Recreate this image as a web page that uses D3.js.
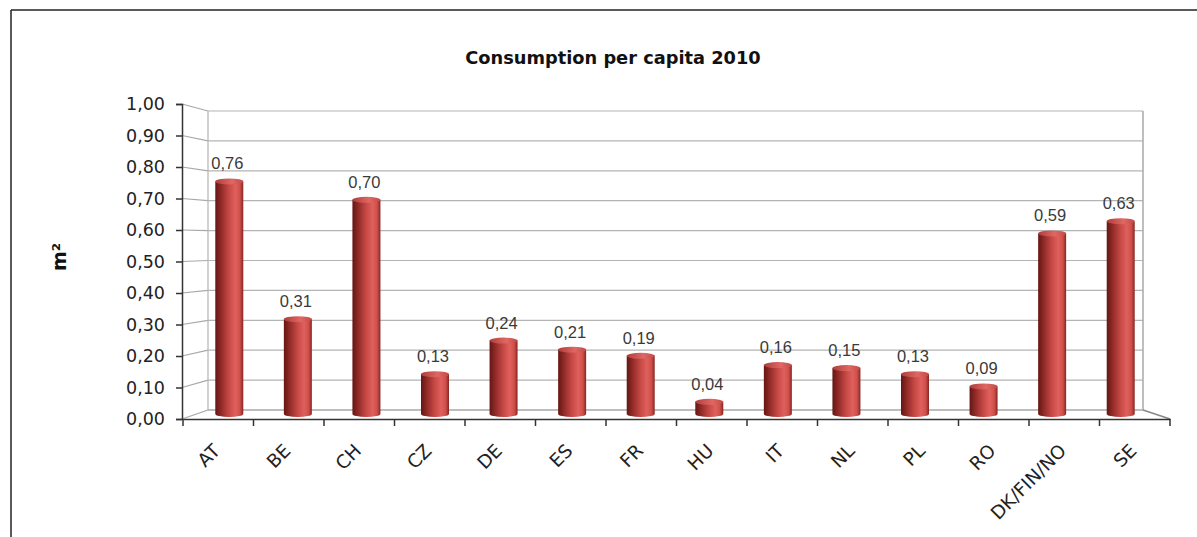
<!DOCTYPE html>
<html>
<head>
<meta charset="utf-8">
<script src="https://cdn.jsdelivr.net/npm/d3@7"></script>
<style>
  html, body { margin: 0; padding: 0; background: #fff; }
  svg { display: block; }
</style>
</head>
<body>
<script>
const categories = ["AT","BE","CH","CZ","DE","ES","FR","HU","IT","NL","PL","RO","DK/FIN/NO","SE"];
const values = [0.76,0.31,0.70,0.13,0.24,0.21,0.19,0.04,0.16,0.15,0.13,0.09,0.59,0.63];
const yTicks = [0,0.1,0.2,0.3,0.4,0.5,0.6,0.7,0.8,0.9,1.0];
const titleText = "Consumption per capita 2010";
const yTitle = "m²";

const W = 1197, H = 537;
const svg = d3.select("body").append("svg").attr("width", W).attr("height", H);

// frame
svg.append("line").attr("x1", 11).attr("x2", W).attr("y1", 10).attr("y2", 10).attr("stroke", "#222").attr("stroke-width", 1.5);
svg.append("line").attr("x1", 11).attr("x2", 11).attr("y1", 10).attr("y2", H).attr("stroke", "#222").attr("stroke-width", 1.5);

// scales: front plane, middle (bars), back wall
const xFront = d3.scaleBand().domain(categories).range([183, 1170]);
const xMid = d3.scaleBand().domain(categories).range([195, 1155]);
const yFront = d3.scaleLinear().domain([0, 1]).range([419, 104]);
const yMid = d3.scaleLinear().domain([0, 1]).range([414, 108]);
const yBack = d3.scaleLinear().domain([0, 1]).range([410, 111]);
const backL = 208, backR = 1143, frontL = 182, frontR = 1170;

const fmt = v => d3.format(".2f")(v).replace(".", ",");

// back wall gridlines
const grid = svg.append("g");
grid.selectAll("line.g").data(yTicks.slice(1)).join("line")
  .attr("x1", backL).attr("x2", backR)
  .attr("y1", d => yBack(d)).attr("y2", d => yBack(d))
  .attr("stroke", "#b4b4b4").attr("stroke-width", 1.2);
grid.selectAll("line.d").data(yTicks).join("line")
  .attr("x1", frontL).attr("x2", backL)
  .attr("y1", d => yFront(d)).attr("y2", d => yBack(d))
  .attr("stroke", "#a8a8a8").attr("stroke-width", 1.2);
grid.append("line").attr("x1", backL).attr("x2", backL).attr("y1", yBack(1)).attr("y2", yBack(0)).attr("stroke", "#b4b4b4").attr("stroke-width", 1.2);
grid.append("line").attr("x1", backR).attr("x2", backR).attr("y1", yBack(1)).attr("y2", yBack(0)).attr("stroke", "#a8a8a8").attr("stroke-width", 1.5);
// floor
grid.append("line").attr("x1", backL).attr("x2", backR).attr("y1", yBack(0)).attr("y2", yBack(0)).attr("stroke", "#a8a8a8").attr("stroke-width", 1.5);
grid.append("line").attr("x1", backR).attr("x2", frontR).attr("y1", yBack(0)).attr("y2", yFront(0)).attr("stroke", "#888").attr("stroke-width", 1.5);

// gradient for cylinders
const defs = svg.append("defs");
const g = defs.append("linearGradient").attr("id", "cyl").attr("x1", "0%").attr("x2", "100%").attr("y1", "0%").attr("y2", "0%");
[[0, "#641614"], [0.22, "#932c29"], [0.5, "#c84a46"], [0.72, "#df605c"], [0.88, "#cf4f4b"], [1, "#862623"]]
  .forEach(([o, c]) => g.append("stop").attr("offset", o).attr("stop-color", c));
const gt = defs.append("linearGradient").attr("id", "cap").attr("x1", "0%").attr("x2", "100%");
[[0, "#b03d3a"], [0.6, "#e06864"], [1, "#c24a46"]].forEach(([o, c]) => gt.append("stop").attr("offset", o).attr("stop-color", c));

const bw = 28, ry = 3;
const data = categories.map((c, i) => ({ c, v: values[i] }));
const bars = svg.append("g").selectAll("g").data(data).join("g");
bars.append("path")
  .attr("d", d => {
    const cx = xMid(d.c) + xMid.bandwidth() / 2;
    const x0 = cx - bw / 2, x1 = cx + bw / 2;
    const yt = yMid(d.v), yb = yMid(0);
    return `M${x0},${yt} L${x0},${yb} A${bw / 2},${ry} 0 0 0 ${x1},${yb} L${x1},${yt} Z`;
  })
  .attr("fill", "url(#cyl)");
bars.append("ellipse")
  .attr("cx", d => xMid(d.c) + xMid.bandwidth() / 2)
  .attr("cy", d => yMid(d.v))
  .attr("rx", bw / 2).attr("ry", ry)
  .attr("fill", "url(#cap)");
bars.append("text")
  .attr("x", d => xMid(d.c) + xMid.bandwidth() / 2 - 2)
  .attr("y", d => yMid(d.v) - 12)
  .attr("text-anchor", "middle")
  .attr("font-family", "Liberation Sans, Arial, sans-serif")
  .attr("font-size", 16.5)
  .attr("fill", "#3a3a3a")
  .text(d => fmt(d.v));

// front y axis
const yAxis = svg.append("g").attr("transform", `translate(${frontL},0)`)
  .call(d3.axisLeft(yFront).tickValues(yTicks).tickSize(6).tickPadding(11).tickFormat(fmt));
yAxis.select(".domain").attr("stroke", "#333").attr("stroke-width", 1.5);
yAxis.selectAll(".tick line").attr("stroke", "#333").attr("stroke-width", 1.5);
yAxis.selectAll("text").attr("font-family", "DejaVu Sans, Verdana, sans-serif").attr("font-size", 17.5).attr("fill", "#222");

// front x axis (floor front edge)
const xAxis = svg.append("g").attr("transform", `translate(0,${yFront(0)})`)
  .call(d3.axisBottom(xFront).tickSize(0).tickFormat(""));
xAxis.select(".domain").attr("stroke", "#333").attr("stroke-width", 1.5);
svg.append("g").selectAll("line").data(d3.range(categories.length + 1)).join("line")
  .attr("x1", i => xFront.range()[0] + i * xFront.step())
  .attr("x2", i => xFront.range()[0] + i * xFront.step())
  .attr("y1", yFront(0)).attr("y2", yFront(0) + 7)
  .attr("stroke", "#333").attr("stroke-width", 1.5);

// category labels
svg.append("g").selectAll("text").data(categories).join("text")
  .attr("transform", d => `translate(${xFront(d) + xFront.bandwidth() / 2 + 3},${452}) rotate(-45)`)
  .attr("text-anchor", "end")
  .attr("font-family", "DejaVu Sans, Verdana, sans-serif")
  .attr("font-size", 18.5)
  .attr("fill", "#222")
  .text(d => d);

// title
svg.append("text").attr("x", 613).attr("y", 64).attr("text-anchor", "middle")
  .attr("font-family", "DejaVu Sans, Verdana, sans-serif").attr("font-weight", "bold")
  .attr("font-size", 17.8).attr("fill", "#111").text(titleText);

// y title
svg.append("text").attr("transform", "translate(66,257) rotate(-90)").attr("text-anchor", "middle")
  .attr("font-family", "DejaVu Sans, Verdana, sans-serif").attr("font-weight", "bold")
  .attr("font-size", 19).attr("fill", "#111").text(yTitle);
</script>
</body>
</html>
